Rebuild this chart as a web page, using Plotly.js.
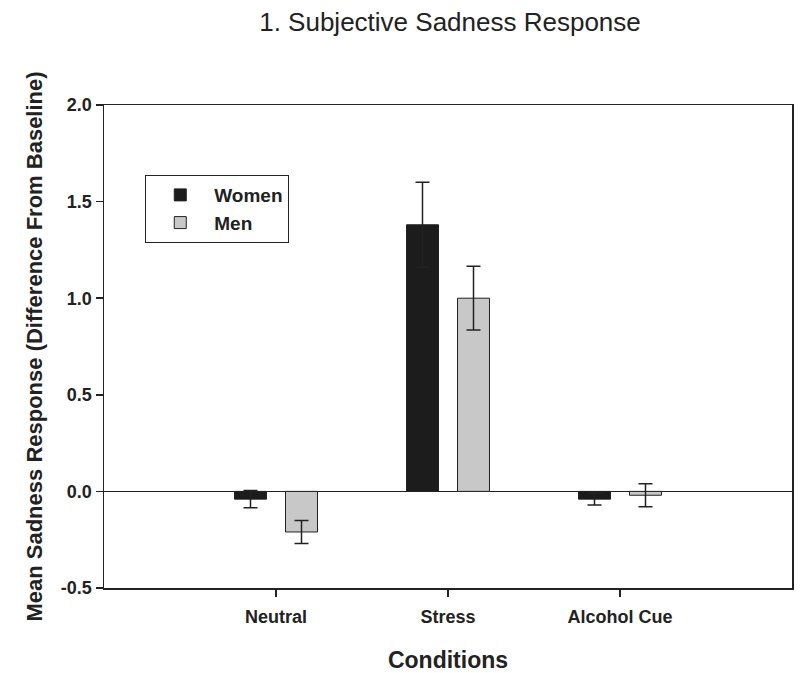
<!DOCTYPE html>
<html>
<head>
<meta charset="utf-8">
<script src="https://cdn.plot.ly/plotly-3.0.1.min.js"></script>
<style>html,body{margin:0;padding:0;background:#fff}#chart{width:800px;height:673px}</style>
</head>
<body>
<div id="chart"></div>
<script>
const categories = ["Neutral", "Stress", "Alcohol Cue"];
const womenMeans = [-0.04, 1.38, -0.04];
const womenErr = [0.045, 0.22, 0.03];
const menMeans = [-0.21, 1.00, -0.02];
const menErr = [0.06, 0.165, 0.06];
const yTicks = [-0.5, 0.0, 0.5, 1.0, 1.5, 2.0];
const yTickText = ["-0.5", "0.0", "0.5", "1.0", "1.5", "2.0"];

const font = "Liberation Sans, Arial, sans-serif";
const dark = "#222222";

const traces = [
  {
    type: "bar", name: "Women", x: categories, y: womenMeans, legendgroup: "w",
    marker: {color: "#1c1c1c", line: {color: dark, width: 1}},
    error_y: {type: "data", array: womenErr, visible: true, color: dark, thickness: 1.5, width: 7}
  },
  {
    type: "bar", name: "Men", x: categories, y: menMeans, legendgroup: "m",
    marker: {color: "#c8c8c8", line: {color: dark, width: 1}},
    error_y: {type: "data", array: menErr, visible: true, color: dark, thickness: 1.5, width: 7}
  }
];

const layout = {
  width: 800, height: 673,
  margin: {l: 104, r: 8, t: 105, b: 85},
  paper_bgcolor: "#fff", plot_bgcolor: "#fff",
  barmode: "group", bargap: 0.407, bargroupgap: 0.373,
  showlegend: true,
  title: {text: "1. Subjective Sadness Response", font: {family: font, size: 26, color: dark},
          x: 0.5625, xanchor: "center", y: 0.967, yanchor: "middle"},
  legend: {
    x: 0.06, y: 0.855, xanchor: "left", yanchor: "top",
    bordercolor: dark, borderwidth: 1, bgcolor: "#fff",
    font: {family: font, size: 19, color: dark, weight: "bold"},
    traceorder: "normal", itemwidth: 58, tracegroupgap: 6
  },
  xaxis: {
    type: "category", range: [-1, 3],
    showline: true, linecolor: dark, linewidth: 1.5, mirror: true,
    ticks: "outside", ticklen: 7, tickcolor: dark, tickwidth: 1.5,
    ticklabelstandoff: 5,
    tickfont: {family: font, size: 18, color: dark, weight: "bold"},
    showgrid: false, zeroline: false,
    title: {text: "Conditions", font: {family: font, size: 23, color: dark, weight: "bold"}, standoff: 26}
  },
  yaxis: {
    range: [-0.5, 2.0], tickvals: yTicks, ticktext: yTickText,
    showline: true, linecolor: dark, linewidth: 1.5, mirror: true,
    ticks: "outside", ticklen: 7, tickcolor: dark, tickwidth: 1.5,
    tickfont: {family: font, size: 18, color: dark, weight: "bold"},
    showgrid: false, zeroline: true, zerolinecolor: dark, zerolinewidth: 1.5,
    title: {text: "Mean Sadness Response (Difference From Baseline)", font: {family: font, size: 22, color: dark, weight: "bold"}, standoff: 12}
  }
};

Plotly.newPlot("chart", traces, layout, {staticPlot: true, displayModeBar: false});
</script>
</body>
</html>
